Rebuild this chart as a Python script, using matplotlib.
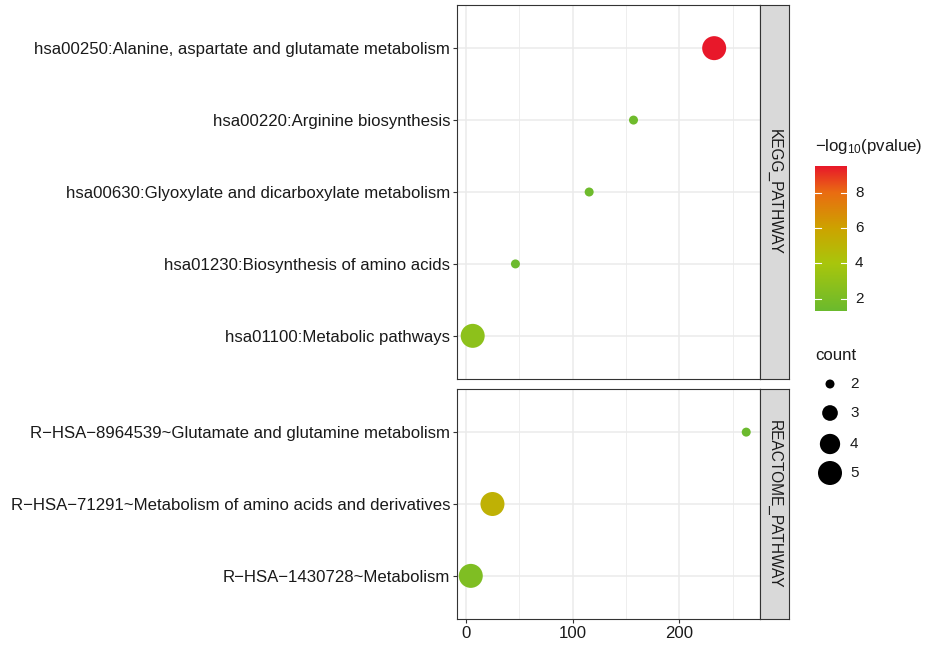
import numpy as np
import matplotlib
matplotlib.use("Agg")
import matplotlib.pyplot as plt
from matplotlib.colors import LinearSegmentedColormap, Normalize

plt.rcParams['font.family'] = ['Liberation Sans', 'DejaVu Sans']
plt.rcParams['mathtext.fontset'] = 'custom'
plt.rcParams['mathtext.rm'] = 'Liberation Sans'
plt.rcParams['mathtext.default'] = 'regular'

# ---------------- data ----------------
kegg_terms = [
    "hsa00250:Alanine, aspartate and glutamate metabolism",
    "hsa00220:Arginine biosynthesis",
    "hsa00630:Glyoxylate and dicarboxylate metabolism",
    "hsa01230:Biosynthesis of amino acids",
    "hsa01100:Metabolic pathways",
]
kegg_x = [232.5, 157.0, 115.5, 46.5, 6.5]
kegg_logp = [9.5, 1.5, 1.45, 1.38, 2.8]
kegg_count = [5, 2, 2, 2, 5]

reac_terms = [
    "R\u2212HSA\u22128964539~Glutamate and glutamine metabolism",
    "R\u2212HSA\u221271291~Metabolism of amino acids and derivatives",
    "R\u2212HSA\u22121430728~Metabolism",
]
reac_x = [262.5, 25.0, 4.7]
reac_logp = [1.32, 5.2, 2.2]
reac_count = [2, 5, 5]

facet_labels = ["KEGG_PATHWAY", "REACTOME_PATHWAY"]
x_ticks = [0, 100, 200]
cbar_ticks = [2, 4, 6, 8]
count_breaks = [2, 3, 4, 5]

# ---------------- styling ----------------
W, H = 927, 649
fig = plt.figure(figsize=(W / 100, H / 100), dpi=100)

def rect(l, t, r, b):
    return [l / W, 1 - b / H, (r - l) / W, (b - t) / H]

cmap = LinearSegmentedColormap.from_list("gr", [
    (0.0, "#6BBA2E"), (0.33, "#A9C60C"), (0.57, "#CDA300"),
    (0.82, "#EA6C12"), (1.0, "#E8182A")])
all_logp = kegg_logp + reac_logp
norm = Normalize(vmin=min(all_logp), vmax=max(all_logp))
all_count = kegg_count + reac_count
cmin, cmax = min(all_count), max(all_count)
dmin_px, dmax_px = 9.0, 24.0

def size_s(c):
    c = np.asarray(c, float)
    t = (c - cmin) / (cmax - cmin)
    d = np.sqrt(dmin_px ** 2 + (dmax_px ** 2 - dmin_px ** 2) * t)
    return (d / (100 / 72)) ** 2

all_x = kegg_x + reac_x
xr = max(all_x) - min(all_x)
xlim = (min(all_x) - 0.05 * xr, max(all_x) + 0.05 * xr)

border_col = "#333333"
grid_col = "#EBEBEB"
text_col = "#1A1A1A"
LBL = 12.1

panels = [
    (kegg_terms, kegg_x, kegg_logp, kegg_count, rect(457, 5, 760, 379)),
    (reac_terms, reac_x, reac_logp, reac_count, rect(457, 389, 760, 619)),
]
strips = [rect(760, 5, 789, 379), rect(760, 389, 789, 619)]

for i, (terms, xs, lp, cnt, r) in enumerate(panels):
    ax = fig.add_axes(r)
    n = len(terms)
    ys = np.arange(n)[::-1]
    ax.set_xlim(*xlim)
    ax.set_ylim(-0.6, n - 1 + 0.6)
    ax.set_xticks(x_ticks)
    ax.set_xticks([50, 150, 250], minor=True)
    ax.set_yticks(ys)
    ax.set_yticklabels(terms)
    ax.grid(True, which="major", color=grid_col, lw=1.1, zorder=0)
    ax.grid(True, which="minor", axis="x", color=grid_col, lw=0.6, zorder=0)
    ax.set_axisbelow(True)
    ax.scatter(xs, ys, s=size_s(cnt), c=lp, cmap=cmap, norm=norm,
               edgecolors="none", zorder=3)
    for sp in ax.spines.values():
        sp.set_color(border_col)
        sp.set_linewidth(0.8)
    ax.tick_params(axis="both", which="major", length=3, width=0.8,
                   color=border_col, labelsize=LBL, labelcolor=text_col, pad=2)
    ax.tick_params(axis="both", which="minor", length=0)
    if i == 0:
        ax.tick_params(axis="x", labelbottom=False, length=0)
    else:
        ax.tick_params(axis="x", labelsize=LBL, pad=2)

    sax = fig.add_axes(strips[i])
    sax.set_facecolor("#D9D9D9")
    sax.set_xticks([]); sax.set_yticks([])
    for sp in sax.spines.values():
        sp.set_color(border_col)
        sp.set_linewidth(0.8)
    sax.text(0.5, 0.5, facet_labels[i], rotation=-90, ha="center", va="center",
             fontsize=11.2, color=text_col, transform=sax.transAxes)

# ---------------- colorbar legend ----------------
fig.text(815 / W, 1 - 147 / H, "\u2212log$_{10}$(pvalue)", fontsize=12.1,
         color=text_col, ha="left", va="center")
cax = fig.add_axes(rect(815, 166, 847, 311))
grad = np.linspace(norm.vmin, norm.vmax, 256).reshape(-1, 1)
cax.imshow(grad, aspect="auto", cmap=cmap, norm=norm, origin="lower",
           extent=[0, 1, norm.vmin, norm.vmax])
cax.set_xlim(0, 1)
cax.set_ylim(norm.vmin, norm.vmax)
for t in cbar_ticks:
    cax.plot([0, 0.2], [t, t], color="white", lw=0.8)
    cax.plot([0.8, 1], [t, t], color="white", lw=0.8)
    cax.text(1.25, t, str(t), transform=cax.get_yaxis_transform(),
             fontsize=11, color=text_col, va="center", ha="left")
cax.set_xticks([]); cax.set_yticks([])
for sp in cax.spines.values():
    sp.set_visible(False)

# ---------------- size legend ----------------
fig.text(815 / W, 1 - 355 / H, "count", fontsize=12.1, color=text_col,
         ha="left", va="center")
lax = fig.add_axes(rect(812, 370, 880, 488))
lax.set_xlim(0, 68)
lax.set_ylim(118, 0)
ly = [14, 43, 74, 103]
lax.scatter([18] * len(count_breaks), ly, s=size_s(count_breaks), c="black",
            edgecolors="none")
for yy, c in zip(ly, count_breaks):
    lax.text(38, yy, str(c), fontsize=11, color=text_col, va="center", ha="left")
lax.axis("off")

fig.savefig("out.png", dpi=100)
